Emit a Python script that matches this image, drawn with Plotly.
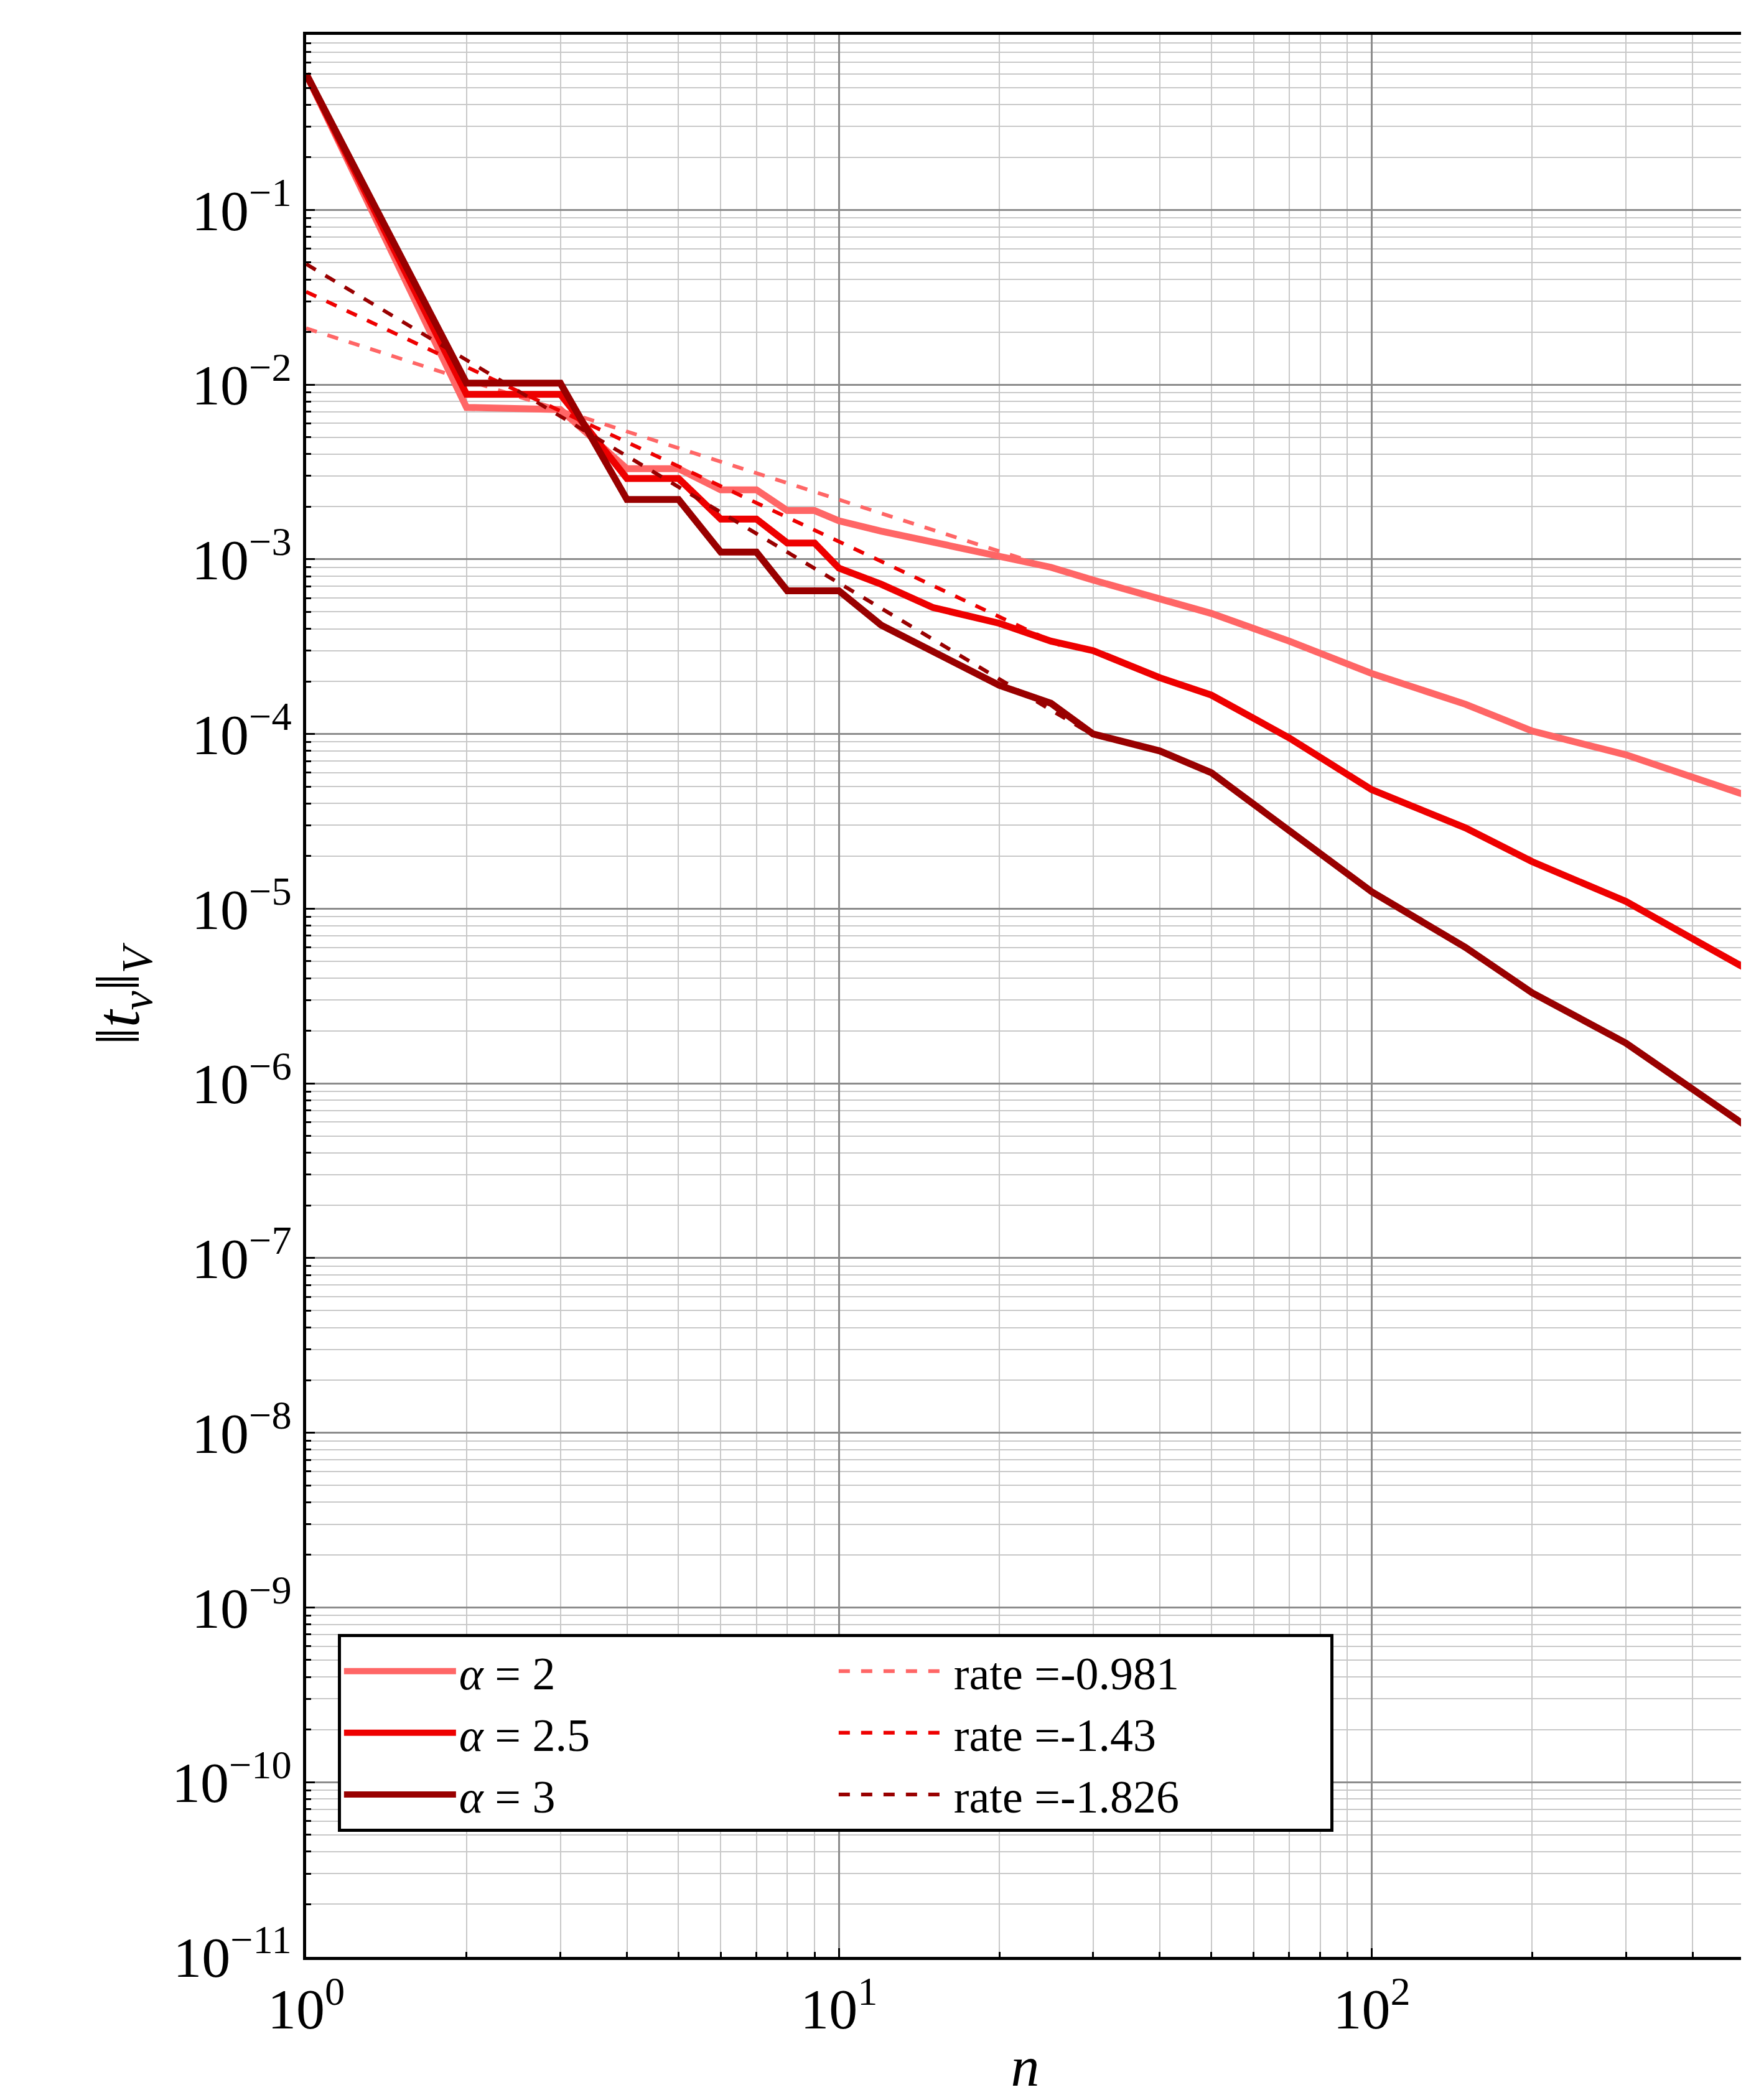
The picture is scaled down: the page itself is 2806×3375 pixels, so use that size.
import numpy as np
import plotly.graph_objects as go

# values
n_pts = [1, 2, 3, 4, 5, 6, 7, 8, 9, 10, 12, 15, 20, 25, 30, 40, 50, 70, 100, 150, 200, 300, 500]
err_a2 = [0.6, 0.0074, 0.0072, 0.0033, 0.0033, 0.0025, 0.0025, 0.0019, 0.0019, 0.00166, 0.00145,
          0.00125, 0.00105, 0.0009, 0.00076, 0.0006, 0.00049, 0.00034, 0.000222, 0.000148,
          0.000104, 7.6e-5, 4.5e-5]
err_a25 = [0.6, 0.0088, 0.0088, 0.0029, 0.0029, 0.0017, 0.0017, 0.00124, 0.00124, 0.00089, 0.00072,
           0.00053, 0.00043, 0.00034, 0.0003, 0.00021, 0.000167, 9.5e-5, 4.8e-5, 2.9e-5,
           1.86e-5, 1.1e-5, 4.6e-6]
err_a3 = [0.6, 0.0102, 0.0102, 0.0022, 0.0022, 0.0011, 0.0011, 0.00066, 0.00066, 0.00066, 0.00042,
          0.0003, 0.00019, 0.00015, 0.0001, 8e-5, 6e-5, 2.8e-5, 1.25e-5, 6e-6,
          3.3e-6, 1.7e-6, 5.8e-7]
alphas = ["2", "2.5", "3"]
rates = [-0.981, -1.43, -1.826]
rate_c = [0.021, 0.034, 0.049]
rate_end = [30, 26, 30]
colors = ["#ff6666", "#ee0000", "#990000"]

font = "Liberation Serif"
fig = go.Figure()
for err, a, r, c, ne, col in zip([err_a2, err_a25, err_a3], alphas, rates, rate_c, rate_end, colors):
    fig.add_trace(go.Scatter(x=n_pts, y=err, mode="lines", line=dict(color=col, width=11),
                             name=f"<i>α</i> = {a}"))
    xr = np.array([1, ne])
    fig.add_trace(go.Scatter(x=xr, y=c * xr ** r, mode="lines",
                             line=dict(color=col, width=6, dash="dash"),
                             name=f"rate ={r}"))

yvals = [10.0 ** -k for k in range(0, 12)]
ytext = ["10<sup>0</sup>"] + [f"10<sup>−{k}</sup>" for k in range(1, 12)]
x_minor = [m * 10.0 ** d for d in range(0, 3) for m in range(2, 10)]
y_minor = [m * 10.0 ** -d for d in range(1, 12) for m in range(2, 10)]


def axis(minor_vals):
    return dict(type="log", showline=True, linecolor="black", linewidth=5, mirror=True,
                ticks="inside", ticklen=14, tickcolor="black", tickwidth=3,
                showgrid=True, gridcolor="#8c8c8c", gridwidth=3, zeroline=False,
                minor=dict(tickvals=minor_vals, showgrid=True, gridcolor="#c8c8c8", gridwidth=2,
                           ticks="inside", ticklen=8, tickcolor="black"),
                tickfont=dict(family=font, size=92, color="black"))


fig.update_layout(
    width=2806, height=3375,
    margin=dict(l=484, r=6, t=48, b=238),
    plot_bgcolor="white", paper_bgcolor="white",
    font=dict(family=font, size=74, color="black"),
    xaxis=dict(range=[0, np.log10(500)], tickvals=[1, 10, 100],
               ticktext=["10<sup>0</sup>", "10<sup>1</sup>", "10<sup>2</sup>"],
               title=dict(text="<i>n</i>", font=dict(family=font, size=92), standoff=10),
               **axis(x_minor)),
    yaxis=dict(range=[-11, 0.002], tickvals=yvals, ticktext=ytext,
               title=dict(text="‖<i>t</i><sub><i>ν</i></sub>‖<sub><i>V</i></sub>",
                          font=dict(family=font, size=100), standoff=20),
               **axis(y_minor)),
    legend=dict(orientation="h", x=0.022, y=0.168, xanchor="left", yanchor="top",
                entrywidth=600, bordercolor="black", borderwidth=5, bgcolor="white",
                font=dict(family=font, size=74), itemwidth=180, tracegroupgap=0),
)

fig.write_html("out.html")
